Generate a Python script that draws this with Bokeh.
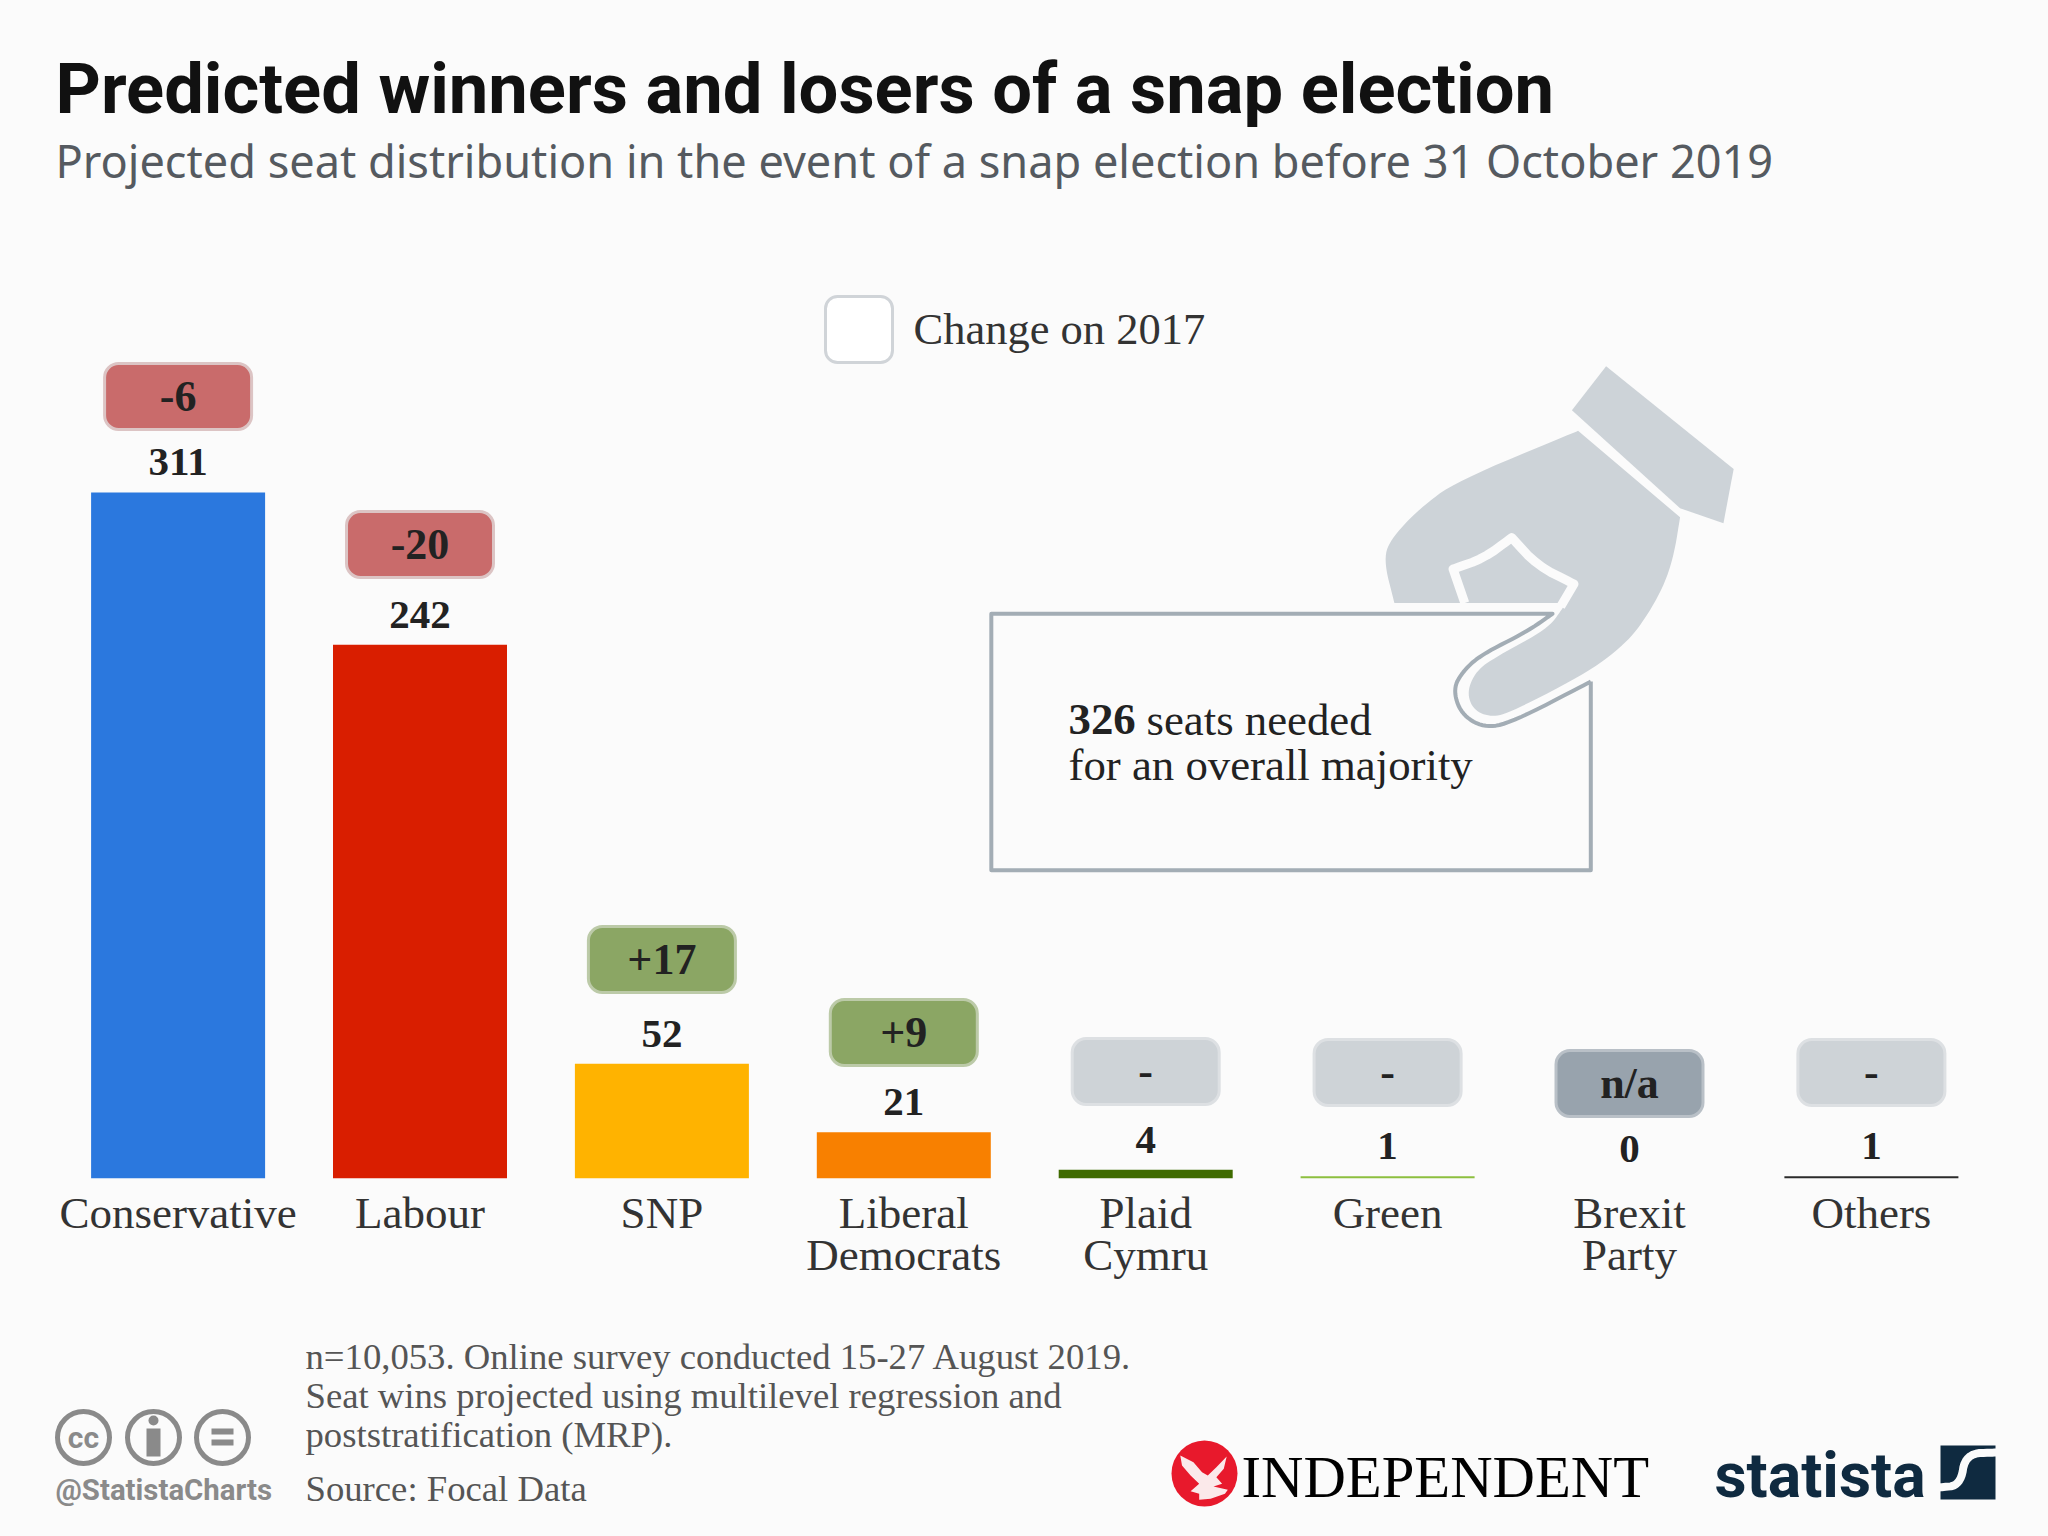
from bokeh.plotting import figure
from bokeh.models import Range1d, Title, ColumnDataSource, FixedTicker
from bokeh.layouts import column
from bokeh.core.properties import value
from bokeh.embed import file_html
from bokeh.resources import INLINE

TITLE = "Predicted winners and losers of a snap election"
SUBTITLE = "Projected seat distribution in the event of a snap election before 31 October 2019"
parties = ["Conservative", "Labour", "SNP", "Liberal\nDemocrats", "Plaid\nCymru", "Green", "Brexit\nParty", "Others"]
seats = [311, 242, 52, 21, 4, 1, 0, 1]
changes = ["-6", "-20", "+17", "+9", "-", "-", "n/a", "-"]
bar_colors = ["#2b78de", "#d91e00", "#ffb300", "#f88000", "#3f6b00", "#8dbf3f", "#2b2b2b", "#2b2b2b"]
badge_fill = ["#c96b6b", "#c96b6b", "#8ba664", "#8ba664", "#ced3d7", "#ced3d7", "#98a3ad", "#ced3d7"]
badge_line = ["#dcc4c4", "#dcc4c4", "#bccaa8", "#bccaa8", "#dde0e3", "#dde0e3", "#b9c0c7", "#dde0e3"]
badge_y = [396, 544, 959, 1032, 1071, 1072, 1083, 1072]

BG = "#fbfbfb"
SERIF = "Liberation Serif"
INK = "#222222"

W, H = 2048, 1536
TOP, BASE, FOOT = 192, 1178, 1300
PER_SEAT = 2.206
CAT = 241.9
FIRST = 177.6
idx = list(range(len(parties)))

p = figure(width=W, height=FOOT, output_backend="svg", toolbar_location=None,
           x_range=Range1d((0 - FIRST) / CAT, (W - FIRST) / CAT),
           y_range=Range1d(0, (BASE - TOP) / PER_SEAT), y_axis_location=None,
           min_border_left=0, min_border_right=0, min_border_top=TOP, min_border_bottom=FOOT - BASE,
           background_fill_color=BG, border_fill_color=BG, outline_line_color=None)
p.extra_x_ranges = {"px": Range1d(0, W)}
p.extra_y_ranges = {"px": Range1d(BASE, TOP)}
p.grid.visible = False
ax = p.xaxis[0]
ax.ticker = FixedTicker(ticks=idx)
ax.major_label_overrides = {i: name for i, name in zip(idx, parties)}
ax.axis_line_color = None
ax.major_tick_line_color = None
ax.minor_tick_line_color = None
ax.major_label_text_font = SERIF
ax.major_label_text_font_size = "45px"
ax.major_label_text_color = "#333333"
ax.major_label_text_line_height = 0.85
ax.major_label_standoff = 3
ax.major_label_orientation = "horizontal"

p.add_layout(Title(text=SUBTITLE, text_font="Noto Sans", text_font_size="45.1px", text_font_style="normal",
                   text_color="#555a60", offset=55, standoff=4), "above")
p.add_layout(Title(text=TITLE, text_font="Roboto", text_font_size="70.5px", text_font_style="bold",
                   text_color="#111111", offset=55, standoff=-9), "above")

src = ColumnDataSource(dict(i=idx, seats=seats, color=bar_colors, change=changes,
                            fill=badge_fill, line=badge_line, by=badge_y,
                            b0=[y - 33 for y in badge_y], b1=[y + 33 for y in badge_y],
                            label=[str(s) for s in seats]))
p.vbar(x="i", top="seats", width=174 / CAT, source=src, fill_color="color", line_color=None)
p.text(x="i", y="seats", text="label", source=src, y_offset=-30, text_align="center", text_baseline="middle",
       text_font=value(SERIF), text_font_style="bold", text_font_size="41px", text_color=INK)
p.vbar(x="i", bottom="b1", top="b0", width=147 / CAT, source=src, y_range_name="px", fill_color="fill",
       line_color="line", line_width=3, border_radius=14)
p.text(x="i", y="by", text="change", source=src, y_range_name="px", text_align="center", text_baseline="middle",
       text_font=value(SERIF), text_font_style="bold", text_font_size="44px", text_color=INK)

def px_text(fig, x, y, t, size, color=INK, style="normal", font=SERIF, align="left"):
    fig.text(x=[x], y=[y], text=[t], x_range_name="px", y_range_name="px", text_align=align, text_baseline="middle",
             text_font=value(font), text_font_style=style, text_font_size=size, text_color=color)

# legend key
p.quad(left=[825], right=[892], top=[296], bottom=[362], x_range_name="px", y_range_name="px",
       fill_color="#ffffff", line_color="#d0d4d8", line_width=3, border_radius=12)
px_text(p, 913, 328, "Change on 2017", "44.5px", "#333333")

# ballot-hand illustration
hx = lambda X: 950 + X / 1.96
hy = lambda Y: 340 + Y / 2.8
def tr(pts):
    return [hx(a) for a, b in pts], [hy(b) for a, b in pts]
def soft(pts, n=3):
    "Round the corners of a traced outline; the two end points stay put."
    for _ in range(n):
        out = [pts[0]]
        for (a, b), (c, d) in zip(pts, pts[1:]):
            out += [(0.75 * a + 0.25 * c, 0.75 * b + 0.25 * d), (0.25 * a + 0.75 * c, 0.25 * b + 0.75 * d)]
        out.append(pts[-1])
        pts = out
    return pts
cuff = [(1285, 72), (1535, 360), (1515, 512), (1430, 470), (1218, 195)]
hand = ([(1230, 253), (1430, 495)]
        + soft([(1430, 495), (1418, 600), (1400, 680), (1370, 760), (1330, 840), (1255, 925), (1100, 1040), (1060, 1055),
                (1025, 1035), (1012, 985), (1030, 925), (1070, 885), (1170, 808), (1200, 750), (1205, 735)])
        + [(870, 735)]
        + soft([(870, 735), (848, 610), (866, 550), (920, 470), (990, 395), (1230, 253)]))
pad = [(1008, 735), (985, 640)] + soft([(985, 640), (1045, 610), (1100, 552)], 2) + soft(
    [(1100, 552), (1150, 630), (1222, 682)], 2) + [(1196, 745)]
box = [(1255, 955), (1255, 1483), (80, 1483), (80, 765), (1180, 765)] + soft(
    [(1180, 765), (1130, 815), (1040, 880), (1005, 925), (985, 975), (1000, 1045), (1045, 1085), (1100, 1070), (1255, 955)])
HAND = "#cdd3d8"
for shape in (cuff, hand):
    xs, ys = tr(shape)
    p.patch(xs, ys, x_range_name="px", y_range_name="px", fill_color=HAND, line_color=None)
xs, ys = tr(pad)
p.line(xs, ys, x_range_name="px", y_range_name="px", line_color=BG, line_width=9, line_join="round")
xs, ys = tr(box)
p.line(xs, ys, x_range_name="px", y_range_name="px", line_color="#a3adb5", line_width=4, line_join="round")

px_text(p, 1068, 719, "326", "44.8px", INK, "bold")
px_text(p, 1146, 719, "seats needed", "44.8px")
px_text(p, 1068, 764, "for an overall majority", "44.8px")

# footer
f = figure(width=W, height=H - FOOT, output_backend="svg", toolbar_location=None,
           x_range=Range1d(0, W), y_range=Range1d(H, FOOT), x_axis_location=None, y_axis_location=None,
           min_border=0, background_fill_color=BG, border_fill_color=BG, outline_line_color=None)
f.extra_x_ranges = {"px": Range1d(0, W)}
f.extra_y_ranges = {"px": Range1d(H, FOOT)}
f.grid.visible = False
GREY = "#8a8a8a"
NOTE = "#555555"
for y, t in [(1355.5, "n=10,053. Online survey conducted 15-27 August 2019."),
             (1394.5, "Seat wins projected using multilevel regression and"),
             (1433.5, "poststratification (MRP)."),
             (1487.5, "Source: Focal Data")]:
    px_text(f, 305, y, t, "36.7px", NOTE)
px_text(f, 55, 1489, "@StatistaCharts", "29.4px", GREY, "bold", "Roboto")
f.circle(x=[83, 153, 222], y=[1437, 1437, 1437], radius=26, x_range_name="px", y_range_name="px",
         fill_color=None, line_color=GREY, line_width=5)
px_text(f, 83, 1437, "cc", "30px", GREY, "bold", "Roboto", "center")
f.circle(x=[153], y=[1420], radius=5, x_range_name="px", y_range_name="px", fill_color=GREY, line_color=None)
f.quad(left=[146, 211, 211], right=[160, 233, 233], top=[1428, 1428, 1439], bottom=[1456, 1434, 1445],
       x_range_name="px", y_range_name="px", fill_color=GREY, line_color=None)

# Independent logo
f.circle(x=[1204], y=[1473], radius=33, x_range_name="px", y_range_name="px", fill_color="#e8192c", line_color=None)
eagle = [(52, 165), (75, 185), (90, 215), (100, 225), (115, 200), (133, 168), (128, 205), (115, 230), (125, 250),
         (110, 258), (135, 268), (130, 280), (105, 295), (85, 298), (85, 280), (70, 272), (85, 250), (70, 225), (55, 195)]
f.patch([1150 + a / 1.746 for a, b in eagle], [1400 + b / 3 for a, b in eagle], x_range_name="px", y_range_name="px",
        fill_color="#fbe9ea", line_color=None)
px_text(f, 1241, 1477, "INDEPENDENT", "58.7px", "#000000")

# Statista logo
NAVY = "#0f2a40"
px_text(f, 1714, 1475, "statista", "62.5px", NAVY, "bold", "Roboto")
f.quad(left=[1940], right=[1995], top=[1445], bottom=[1499], x_range_name="px", y_range_name="px",
       fill_color=NAVY, line_color=None)
curve = soft([(1997, 1452), (1965, 1453), (1960, 1485), (1938, 1487)])
f.line([a for a, b in curve], [b for a, b in curve], x_range_name="px", y_range_name="px", line_color=BG, line_width=8)

layout = column(p, f, spacing=0)
html = file_html(layout, INLINE)
html = html.replace("<head>", "<head><style>html,body{background:#fbfbfb}</style>", 1)
open("out.html", "w").write(html)
